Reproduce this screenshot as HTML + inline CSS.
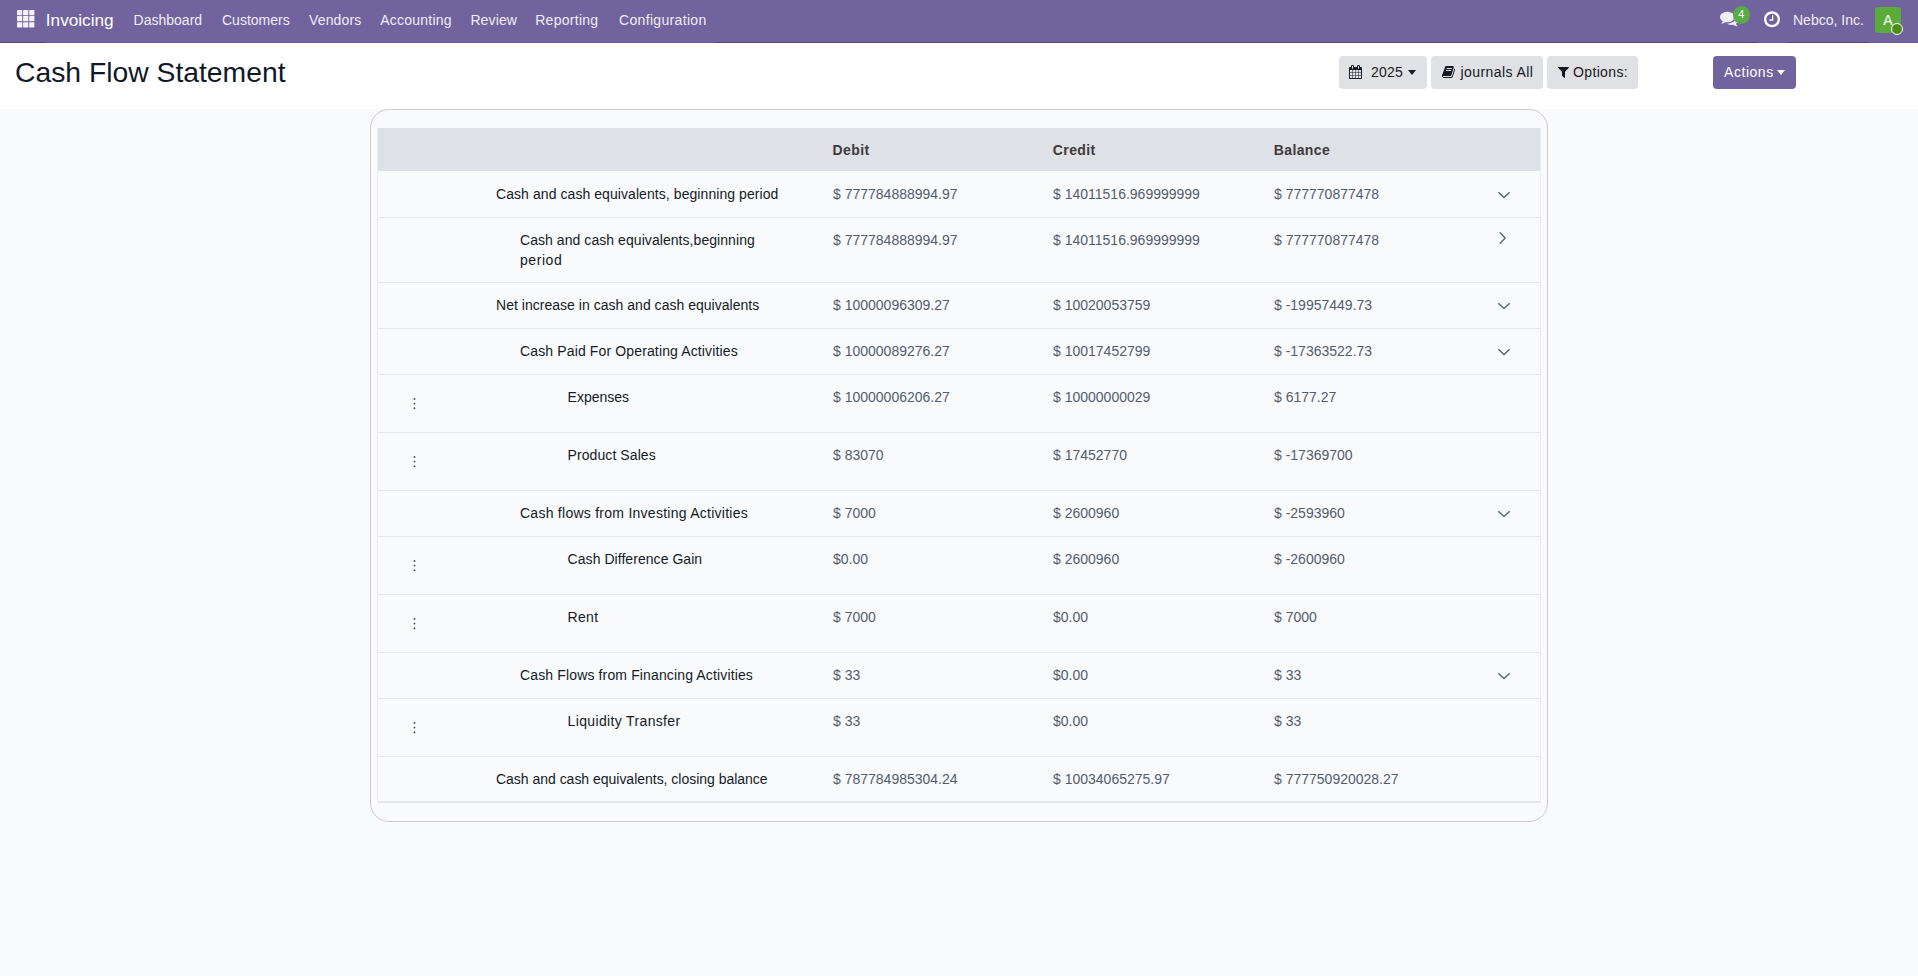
<!DOCTYPE html>
<html><head><meta charset="utf-8"><title>Cash Flow Statement</title>
<style>
*{box-sizing:border-box;margin:0;padding:0}
html,body{width:1918px;height:976px;overflow:hidden;background:#f9fafb;font-family:"Liberation Sans", Arial, sans-serif;font-size:14px;color:#1f2937}
.nav{position:absolute;left:0;top:0;width:1918px;height:43px;background:#71639e;border-bottom:1px solid #685b97}
.navline{position:absolute;top:42px;height:1px;background:#564a80}
.nav .t{position:absolute;top:11px;line-height:18px;color:#efedf5;white-space:nowrap}
.cp{position:absolute;left:0;top:43px;width:1918px;height:66px;background:#fff}
.title{position:absolute;left:15px;top:55px;font-size:28.3px;line-height:34px;color:#111827;white-space:nowrap}
.btn{position:absolute;top:56px;height:33px;border-radius:4px;background:#dfe1e5;color:#161a22}
.btn .bt{position:absolute;top:6px;line-height:20px;white-space:nowrap;font-size:14px;letter-spacing:0.2px}
.caret{position:absolute;top:14px;width:0;height:0;border-top:5px solid #161a22;border-left:4.5px solid transparent;border-right:4.5px solid transparent}
.card{position:absolute;left:370px;top:109px;width:1178px;height:713px;border:1px solid #d6c6c9;border-radius:19px;background:#f9fafb}
.tbl{position:absolute;left:377px;top:128px;width:1164px;height:675px;border-left:1px solid #eceef1;border-right:1px solid #eceef1;border-bottom:2px solid #e6e8ec}
.thead{position:absolute;left:0;top:0;width:100%;height:43px;background:#dee1e5}
.th{position:absolute;top:12px;line-height:20px;font-weight:bold;color:#3f3a3c;white-space:nowrap;letter-spacing:0.4px}
.row{position:absolute;left:0;width:100%;border-top:1px solid #e6e8eb}
.row:nth-child(2){border-top-color:transparent}
.lbl{position:absolute;top:12px;line-height:20px;color:#141a26;white-space:nowrap}
.num{position:absolute;top:12px;line-height:20px;color:#535c6f;white-space:nowrap}
.ic{position:absolute;display:block}
</style></head><body>
<div class="nav">
  <svg style="position:absolute;left:17px;top:10.2px" width="18" height="18" viewBox="0 0 18 18"><g fill="#f4f2f8"><rect x="0" y="0" width="5.2" height="5.2" rx="0.4"/><rect x="6.1" y="0" width="5.2" height="5.2" rx="0.4"/><rect x="12.2" y="0" width="5.2" height="5.2" rx="0.4"/><rect x="0" y="6.1" width="5.2" height="5.2" rx="0.4"/><rect x="6.1" y="6.1" width="5.2" height="5.2" rx="0.4"/><rect x="12.2" y="6.1" width="5.2" height="5.2" rx="0.4"/><rect x="0" y="12.2" width="5.2" height="5.2" rx="0.4"/><rect x="6.1" y="12.2" width="5.2" height="5.2" rx="0.4"/><rect x="12.2" y="12.2" width="5.2" height="5.2" rx="0.4"/></g></svg>
  <div class="t" style="left:45.8px;top:9px;font-size:17.2px;line-height:22px;color:#fff">Invoicing</div>
  <div class="t" style="left:133.6px">Dashboard</div>
  <div class="t" style="left:222px">Customers</div>
  <div class="t" style="left:309px;letter-spacing:0.15px">Vendors</div>
  <div class="t" style="left:380.3px;letter-spacing:0.22px">Accounting</div>
  <div class="t" style="left:470.4px;letter-spacing:0.12px">Review</div>
  <div class="t" style="left:535.2px;letter-spacing:0.28px">Reporting</div>
  <div class="t" style="left:619px;letter-spacing:0.33px">Configuration</div>
  <svg style="position:absolute;left:1720.4px;top:8.5px" width="18.67" height="18.67" viewBox="0 0 1792 1792"><path transform="matrix(1 0 0 -1 0 1536)" fill="#f0eef5" d="M1408 768C1408 1051 1093 1280 704 1280C315 1280 0 1051 0 768C0 606 104 461 266 367C232 284 188 245 149 201C138 188 125 176 129 157C129 157 129 157 129 157C132 140 146 128 161 128C162 128 163 128 164 128C194 132 223 137 250 144C351 170 445 213 528 272C584 262 643 256 704 256C1093 256 1408 485 1408 768ZM1792 512C1792 679 1682 827 1513 920C1528 871 1536 820 1536 768C1536 589 1444 424 1277 302C1122 190 919 128 704 128C675 128 645 130 616 132C741 50 907 0 1088 0C1149 0 1208 6 1264 16C1347 -43 1441 -86 1542 -112C1569 -119 1598 -124 1628 -128C1644 -130 1659 -117 1663 -99C1663 -99 1663 -99 1663 -99C1667 -80 1654 -68 1643 -55C1604 -11 1560 28 1526 111C1688 205 1792 349 1792 512Z"/></svg>
  <div style="position:absolute;left:1732.5px;top:6px;width:17.6px;height:17.6px;border-radius:50%;background:#5aaa46;color:#fff;font-size:10.8px;line-height:16.4px;text-align:center">4</div>
  <svg style="position:absolute;left:1764.3px;top:10.2px" width="16.00" height="18.67" viewBox="0 0 1536 1792"><path transform="matrix(1 0 0 -1 0 1536)" fill="#ffffff" d="M896 992C896 1010 882 1024 864 1024H800C782 1024 768 1010 768 992V640H544C526 640 512 626 512 608V544C512 526 526 512 544 512H864C882 512 896 526 896 544ZM1312 640C1312 340 1068 96 768 96C468 96 224 340 224 640C224 940 468 1184 768 1184C1068 1184 1312 940 1312 640ZM1536 640C1536 1064 1192 1408 768 1408C344 1408 0 1064 0 640C0 216 344 -128 768 -128C1192 -128 1536 216 1536 640Z"/></svg>
  <div class="t" style="left:1793px">Nebco, Inc.</div>
  <div style="position:absolute;left:1875px;top:7px;width:26px;height:26px;border-radius:3px;background:#5cac3c;color:#fff;font-size:14px;line-height:26px;text-align:center">A</div>
  <div style="position:absolute;left:1891px;top:23px;width:12px;height:12px;border-radius:50%;background:#4b8c1d;border:1px solid #fff"></div>
  <div class="navline" style="left:0;width:46px"></div>
  <div class="navline" style="left:715px;width:1043px"></div>
  <div class="navline" style="left:1787px;width:82px"></div>
</div>
<div class="cp"></div>
<div class="title">Cash Flow Statement</div>
<div class="btn" style="left:1339px;width:88px"><svg style="position:absolute;left:10px;top:9px" width="13.00" height="14.00" viewBox="0 0 1664 1792"><path transform="matrix(1 0 0 -1 0 1536)" fill="#161a22" d="M128 -128V160H416V-128ZM480 -128V160H800V-128ZM128 224V544H416V224ZM480 224V544H800V224ZM128 608V896H416V608ZM864 -128V160H1184V-128ZM480 608V896H800V608ZM1248 -128V160H1536V-128ZM864 224V544H1184V224ZM512 1088C512 1071 497 1056 480 1056H416C399 1056 384 1071 384 1088V1376C384 1393 399 1408 416 1408H480C497 1408 512 1393 512 1376V1088ZM1248 224V544H1536V224ZM864 608V896H1184V608ZM1248 608V896H1536V608ZM1280 1088C1280 1071 1265 1056 1248 1056H1184C1167 1056 1152 1071 1152 1088V1376C1152 1393 1167 1408 1184 1408H1248C1265 1408 1280 1393 1280 1376V1088ZM1664 1152C1664 1222 1606 1280 1536 1280H1408V1376C1408 1464 1336 1536 1248 1536H1184C1096 1536 1024 1464 1024 1376V1280H640V1376C640 1464 568 1536 480 1536H416C328 1536 256 1464 256 1376V1280H128C58 1280 0 1222 0 1152V-128C0 -198 58 -256 128 -256H1536C1606 -256 1664 -198 1664 -128Z"/></svg><div class="bt" style="left:32px">2025</div><div class="caret" style="left:69px"></div></div>
<div class="btn" style="left:1431px;width:112px"><svg style="position:absolute;left:11px;top:9px" width="13.00" height="14.00" viewBox="0 0 1664 1792"><path transform="matrix(1 0 0 -1 0 1536)" fill="#161a22" d="M1639 1058C1624 1078 1603 1092 1580 1101C1581 1083 1581 1063 1575 1044L1275 57C1264 21 1221 0 1184 0H261C206 0 137 12 117 70C109 92 110 101 118 113C127 125 143 128 156 128H1025C1152 128 1178 162 1225 316L1499 1222C1513 1269 1507 1316 1481 1352C1456 1387 1414 1408 1367 1408H606C589 1408 572 1403 555 1399L556 1402C429 1438 421 1301 379 1239C363 1216 339 1196 335 1177C332 1159 342 1142 340 1125C334 1072 294 977 270 944C255 924 233 914 226 891C220 875 230 852 228 831C223 784 188 695 161 649C151 631 132 617 127 598C122 581 132 559 127 540C116 488 82 407 52 357C36 330 15 313 11 289C9 277 18 264 17 248C16 224 12 204 10 184C-4 146 -4 102 12 57C49 -47 158 -128 260 -128H1183C1269 -128 1357 -62 1382 23L1657 929C1671 975 1664 1022 1639 1058ZM575 1056 596 1120C602 1138 621 1152 638 1152H1246C1264 1152 1274 1138 1268 1120L1247 1056C1241 1038 1222 1024 1205 1024H597C579 1024 569 1038 575 1056ZM492 800 513 864C519 882 538 896 555 896H1163C1181 896 1191 882 1185 864L1164 800C1158 782 1139 768 1122 768H514C496 768 486 782 492 800Z"/></svg><div class="bt" style="left:29.5px;letter-spacing:0.42px">journals All</div></div>
<div class="btn" style="left:1547px;width:91px"><svg style="position:absolute;left:10.9px;top:8.7px" width="11.00" height="14.00" viewBox="0 0 1408 1792"><path transform="matrix(1 0 0 -1 0 1536)" fill="#161a22" d="M1403 1241C1393 1264 1370 1280 1344 1280H64C38 1280 15 1264 5 1241C-5 1217 0 1189 19 1171L512 678V192C512 175 519 159 531 147L787 -109C799 -122 815 -128 832 -128C840 -128 849 -126 857 -123C880 -113 896 -90 896 -64V678L1389 1171C1408 1189 1413 1217 1403 1241Z"/></svg><div class="bt" style="left:26px;letter-spacing:0.36px">Options:</div></div>
<div class="btn" style="left:1713px;width:83px;background:#71639e;color:#fff"><div class="bt" style="left:11px;letter-spacing:0.55px">Actions</div><div class="caret" style="left:64px;border-top-color:#fff"></div></div>
<div class="card"></div>
<div class="tbl">
  <div class="thead">
    <div class="th" style="left:454.6px">Debit</div>
    <div class="th" style="left:674.8px">Credit</div>
    <div class="th" style="left:895.7px">Balance</div>
  </div>
  <div class="row" style="top:43px;height:46px"><div class="lbl" style="left:118px;letter-spacing:0.07px">Cash and cash equivalents, beginning period</div><div class="num" style="left:455px">$ 777784888994.97</div><div class="num" style="left:675px">$ 14011516.969999999</div><div class="num" style="left:896px">$ 777770877478</div><svg class="ic" style="left:1119.3px;top:18.6px" width="14" height="8" viewBox="0 0 14 8"><path d="M1.3 1.3 L7 6.5 L12.7 1.3" fill="none" stroke="#5c667c" stroke-width="1.45"/></svg></div><div class="row" style="top:89px;height:65px"><div class="lbl" style="left:142px;letter-spacing:0.06px">Cash and cash equivalents,beginning<br><span style="letter-spacing:0.55px">period</span></div><div class="num" style="left:455px">$ 777784888994.97</div><div class="num" style="left:675px">$ 14011516.969999999</div><div class="num" style="left:896px">$ 777770877478</div><svg class="ic" style="left:1121px;top:13.3px" width="8" height="14" viewBox="0 0 8 14"><path d="M1.2 1.8 L6.2 7 L1.2 12.2" fill="none" stroke="#5c667c" stroke-width="1.45" stroke-linecap="round" stroke-linejoin="round"/></svg></div><div class="row" style="top:154px;height:46px"><div class="lbl" style="left:118px;letter-spacing:0.025px">Net increase in cash and cash equivalents</div><div class="num" style="left:455px">$ 10000096309.27</div><div class="num" style="left:675px">$ 10020053759</div><div class="num" style="left:896px">$ -19957449.73</div><svg class="ic" style="left:1119.3px;top:18.6px" width="14" height="8" viewBox="0 0 14 8"><path d="M1.3 1.3 L7 6.5 L12.7 1.3" fill="none" stroke="#5c667c" stroke-width="1.45"/></svg></div><div class="row" style="top:200px;height:46px"><div class="lbl" style="left:142px;letter-spacing:0.136px">Cash Paid For Operating Activities</div><div class="num" style="left:455px">$ 10000089276.27</div><div class="num" style="left:675px">$ 10017452799</div><div class="num" style="left:896px">$ -17363522.73</div><svg class="ic" style="left:1119.3px;top:18.6px" width="14" height="8" viewBox="0 0 14 8"><path d="M1.3 1.3 L7 6.5 L12.7 1.3" fill="none" stroke="#5c667c" stroke-width="1.45"/></svg></div><div class="row" style="top:246px;height:58px"><div class="lbl" style="left:189.6px;letter-spacing:0px">Expenses</div><div class="num" style="left:455px">$ 10000006206.27</div><div class="num" style="left:675px">$ 10000000029</div><div class="num" style="left:896px">$ 6177.27</div><svg class="ic" style="left:34.6px;top:22px" width="3" height="13" viewBox="0 0 3 13"><g fill="#454b5c"><circle cx="1.5" cy="2" r="0.95"/><circle cx="1.5" cy="6.6" r="0.95"/><circle cx="1.5" cy="11.2" r="0.95"/></g></svg></div><div class="row" style="top:304px;height:58px"><div class="lbl" style="left:189.6px;letter-spacing:0.08px">Product Sales</div><div class="num" style="left:455px">$ 83070</div><div class="num" style="left:675px">$ 17452770</div><div class="num" style="left:896px">$ -17369700</div><svg class="ic" style="left:34.6px;top:22px" width="3" height="13" viewBox="0 0 3 13"><g fill="#454b5c"><circle cx="1.5" cy="2" r="0.95"/><circle cx="1.5" cy="6.6" r="0.95"/><circle cx="1.5" cy="11.2" r="0.95"/></g></svg></div><div class="row" style="top:362px;height:46px"><div class="lbl" style="left:142px;letter-spacing:0.26px">Cash flows from Investing Activities</div><div class="num" style="left:455px">$ 7000</div><div class="num" style="left:675px">$ 2600960</div><div class="num" style="left:896px">$ -2593960</div><svg class="ic" style="left:1119.3px;top:18.6px" width="14" height="8" viewBox="0 0 14 8"><path d="M1.3 1.3 L7 6.5 L12.7 1.3" fill="none" stroke="#5c667c" stroke-width="1.45"/></svg></div><div class="row" style="top:408px;height:58px"><div class="lbl" style="left:189.6px;letter-spacing:0.05px">Cash Difference Gain</div><div class="num" style="left:455px">$0.00</div><div class="num" style="left:675px">$ 2600960</div><div class="num" style="left:896px">$ -2600960</div><svg class="ic" style="left:34.6px;top:22px" width="3" height="13" viewBox="0 0 3 13"><g fill="#454b5c"><circle cx="1.5" cy="2" r="0.95"/><circle cx="1.5" cy="6.6" r="0.95"/><circle cx="1.5" cy="11.2" r="0.95"/></g></svg></div><div class="row" style="top:466px;height:58px"><div class="lbl" style="left:189.6px;letter-spacing:0.3px">Rent</div><div class="num" style="left:455px">$ 7000</div><div class="num" style="left:675px">$0.00</div><div class="num" style="left:896px">$ 7000</div><svg class="ic" style="left:34.6px;top:22px" width="3" height="13" viewBox="0 0 3 13"><g fill="#454b5c"><circle cx="1.5" cy="2" r="0.95"/><circle cx="1.5" cy="6.6" r="0.95"/><circle cx="1.5" cy="11.2" r="0.95"/></g></svg></div><div class="row" style="top:524px;height:46px"><div class="lbl" style="left:142px;letter-spacing:0.14px">Cash Flows from Financing Activities</div><div class="num" style="left:455px">$ 33</div><div class="num" style="left:675px">$0.00</div><div class="num" style="left:896px">$ 33</div><svg class="ic" style="left:1119.3px;top:18.6px" width="14" height="8" viewBox="0 0 14 8"><path d="M1.3 1.3 L7 6.5 L12.7 1.3" fill="none" stroke="#5c667c" stroke-width="1.45"/></svg></div><div class="row" style="top:570px;height:58px"><div class="lbl" style="left:189.6px;letter-spacing:0.35px">Liquidity Transfer</div><div class="num" style="left:455px">$ 33</div><div class="num" style="left:675px">$0.00</div><div class="num" style="left:896px">$ 33</div><svg class="ic" style="left:34.6px;top:22px" width="3" height="13" viewBox="0 0 3 13"><g fill="#454b5c"><circle cx="1.5" cy="2" r="0.95"/><circle cx="1.5" cy="6.6" r="0.95"/><circle cx="1.5" cy="11.2" r="0.95"/></g></svg></div><div class="row" style="top:628px;height:46px"><div class="lbl" style="left:118px;letter-spacing:-0.02px">Cash and cash equivalents, closing balance</div><div class="num" style="left:455px">$ 787784985304.24</div><div class="num" style="left:675px">$ 10034065275.97</div><div class="num" style="left:896px">$ 777750920028.27</div></div>
</div>
</body></html>
